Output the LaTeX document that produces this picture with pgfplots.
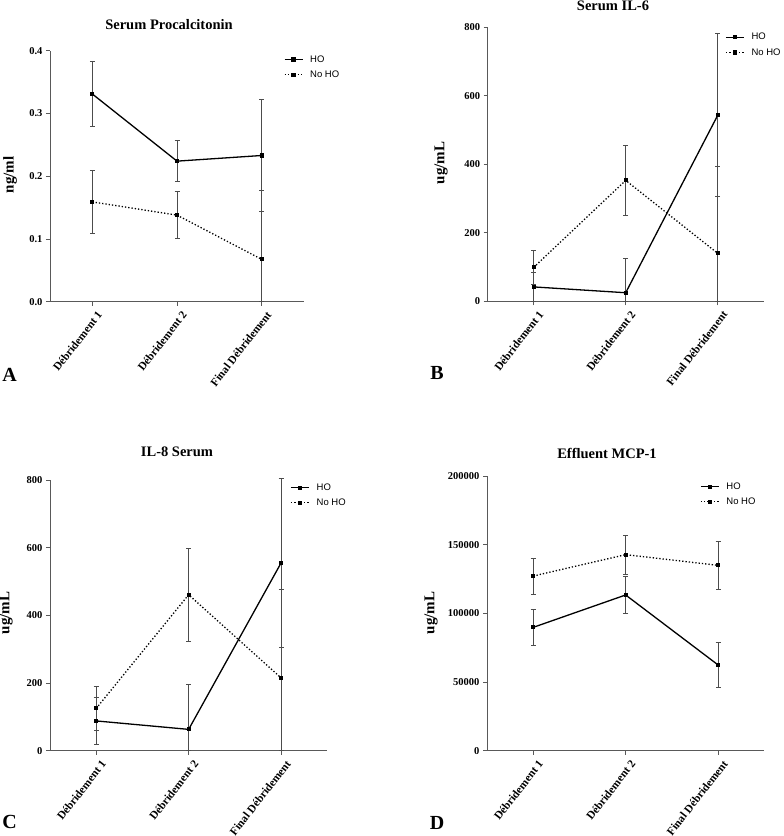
\documentclass[border=0pt]{standalone}
\usepackage{fontspec}
\setmainfont{Liberation Serif}
\newfontfamily\arial{Liberation Sans}
\usepackage{pgfplots}
\pgfplotsset{compat=1.18}

\pgfplotsset{
  panel/.style={
    scale only axis, anchor=south west,
    xmin=-0.5, xmax=2.5, ymin=0,
    axis x line=bottom, axis y line=left,
    axis line style={-, draw=black!65, line width=0.9pt},
    xtick={0,1,2},
    xticklabels={Débridement 1,Débridement 2,Final Débridement},
    xticklabel style={rotate=52, anchor=north east, font=\fontsize{11.3}{12}\bfseries,
      inner sep=1pt, yshift=-5pt},
    yticklabel style={font=\fontsize{10.5}{12}\bfseries},
    /pgf/number format/assume math mode=true,
    /pgf/number format/1000 sep={},
    scaled y ticks=false,
    tick align=outside, major tick length=4pt,
    tick style={draw=black!65, line width=0.8pt},
    clip=false,
    legend style={draw=none, fill=none, anchor=north west, inner sep=0pt,
      font=\arial\fontsize{9.5}{11}\selectfont, row sep=3pt,
      nodes={inner xsep=0pt},
      /tikz/every odd column/.append style={column sep=7pt}},
    legend cell align=left,
    legend image code/.code={\draw[mark repeat=2,mark phase=2,#1]
      plot coordinates {(0pt,0pt) (9pt,0pt) (18pt,0pt)};},
  },
  ho/.style={black, line width=1.3pt, mark=square*, mark size=1.4pt,
    mark options={solid},
    error bars/.cd, y dir=both, y explicit,
    error bar style={black!70, line width=0.9pt, solid},
    error mark options={rotate=90, mark size=2.5pt, black!70, line width=0.8pt}},
  noho/.style={black, line width=1.3pt, dash pattern=on 1.3pt off 2pt, mark=square*, mark size=1.4pt,
    mark options={solid},
    error bars/.cd, y dir=both, y explicit,
    error bar style={black!70, line width=0.9pt, solid},
    error mark options={rotate=90, mark size=2.5pt, black!70, line width=0.8pt}},
}

\begin{document}
\begin{tikzpicture}
\path[use as bounding box] (0,0) rectangle (784pt,836pt);

% A
\begin{axis}[panel, at={(50pt,534.3pt)}, width=254pt, height=251pt,
  ymax=0.4, ytick={0,0.1,0.2,0.3,0.4},
  yticklabel style={/pgf/number format/.cd, fixed, fixed zerofill, precision=1},
  legend style={at={(0.92,0.99)}}]
\addplot[ho] table[x=x, y=y, y error plus=ep, y error minus=em] {
x y ep em
0 0.331 0.052 0.052
1 0.224 0.033 0.033
2 0.233 0.089 0.089
};
\addplot[noho] table[x=x, y=y, y error plus=ep, y error minus=em] {
x y ep em
0 0.159 0.050 0.050
1 0.138 0.037 0.037
2 0.0675 0.110 0.0675
};
\legend{HO,No HO}
\end{axis}

% B
\begin{axis}[panel, at={(487.7pt,534.7pt)}, width=276pt, height=274pt,
  ymax=800, ytick={0,200,400,600,800},
  legend style={at={(0.86,0.986)}}]
\addplot[ho] table[x=x, y=y, y error plus=ep, y error minus=em] {
x y ep em
0 42 42 42
1 25 100 25
2 543 238 238
};
\addplot[noho] table[x=x, y=y, y error plus=ep, y error minus=em] {
x y ep em
0 99 50 50
1 353 102 102
2 140 254 140
};
\legend{HO,No HO}
\end{axis}

% C
\begin{axis}[panel, at={(50pt,85.3pt)}, width=277.3pt, height=270.7pt,
  ymax=800, ytick={0,200,400,600,800},
  legend style={at={(0.866,0.995)}}]
\addplot[ho] table[x=x, y=y, y error plus=ep, y error minus=em] {
x y ep em
0 88 69 69
1 63 134 63
2 555 250 250
};
\addplot[noho] table[x=x, y=y, y error plus=ep, y error minus=em] {
x y ep em
0 125 65 65
1 461 137 137
2 215 262 215
};
\legend{HO,No HO}
\end{axis}

% D
\begin{axis}[panel, at={(487pt,85.3pt)}, width=277.3pt, height=274.4pt,
  ymax=200000, ytick={0,50000,100000,150000,200000},
  yticklabel style={/pgf/number format/.cd, fixed, precision=0},
  legend style={at={(0.768,0.985)}}]
\addplot[ho] table[x=x, y=y, y error plus=ep, y error minus=em] {
x y ep em
0 89900 13200 13200
1 113500 13400 13400
2 62500 16500 16500
};
\addplot[noho] table[x=x, y=y, y error plus=ep, y error minus=em] {
x y ep em
0 127300 13100 13100
1 142900 14300 14300
2 135100 17200 17200
};
\legend{HO,No HO}
\end{axis}

% titles, axis labels, panel letters
\begin{scope}[every node/.style={font=\fontsize{14.5}{16}\bfseries}]
\node at (169pt,811pt) {Serum Procalcitonin};
\node at (613pt,830pt) {Serum IL-6};
\node at (177pt,384pt) {IL-8 Serum};
\node at (607pt,383pt) {Effluent MCP-1};
\end{scope}
\begin{scope}[every node/.style={font=\fontsize{15}{17}\bfseries, rotate=90}]
\node at (10pt,661pt) {ng/ml};
\node at (441pt,673pt) {ug/mL};
\node at (6pt,223pt) {ug/mL};
\node at (431pt,223pt) {ug/mL};
\end{scope}
\begin{scope}[every node/.style={font=\fontsize{20}{22}\bfseries}]
\node at (9.5pt,461pt) {A};
\node at (437pt,463pt) {B};
\node at (9.5pt,14pt) {C};
\node at (437pt,13pt) {D};
\end{scope}
\end{tikzpicture}
\end{document}
